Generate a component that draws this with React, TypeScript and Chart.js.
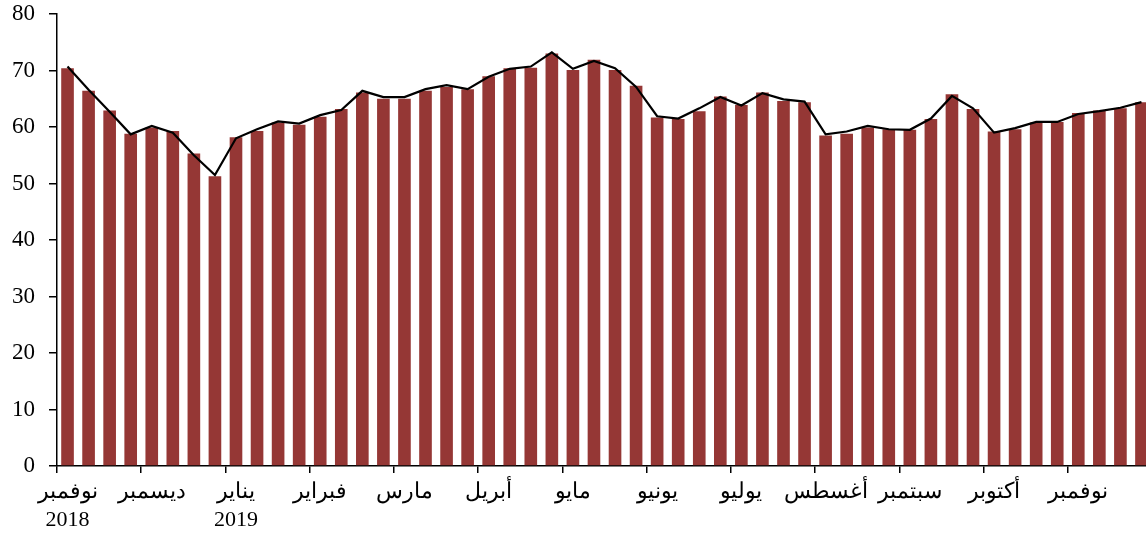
import React, { useEffect, useRef } from "react";
import { Chart, registerables } from "chart.js";

Chart.register(...registerables);

const months = ["نوفمبر", "ديسمبر", "يناير", "فبراير", "مارس", "أبريل", "مايو", "يونيو", "يوليو", "أغسطس", "سبتمبر", "أكتوبر", "نوفمبر"];
const years = ["2018", "", "2019", "", "", "", "", "", "", "", "", "", ""];
const weeksPerMonth = 4;

const barValues = [
  70.4, 66.4, 62.9, 58.8, 59.9, 59.3, 55.3, 51.3, 58.2, 59.3,
  60.8, 60.4, 61.8, 63.2, 66.1, 65.0, 65.0, 66.4, 67.1, 66.7,
  69.0, 70.4, 70.5, 73.0, 70.1, 71.9, 70.1, 67.3, 61.7, 61.4,
  62.8, 65.4, 63.9, 66.1, 64.6, 64.4, 58.5, 58.8, 59.9, 59.6,
  59.5, 61.4, 65.8, 63.2, 59.2, 59.6, 60.8, 60.9, 62.5, 62.9, 63.3, 64.4,
];

const lineValues = [
  70.7, 66.6, 62.7, 58.7, 60.2, 59.0, 55.0, 51.5, 58.0, 59.6,
  61.0, 60.6, 62.1, 63.0, 66.4, 65.3, 65.3, 66.7, 67.4, 66.7,
  68.9, 70.3, 70.7, 73.2, 70.3, 71.7, 70.4, 67.1, 61.9, 61.5,
  63.3, 65.3, 63.8, 66.0, 64.9, 64.5, 58.7, 59.2, 60.2, 59.6,
  59.5, 61.5, 65.5, 63.3, 59.0, 59.8, 60.9, 60.9, 62.3, 62.8, 63.4, 64.4,
];

const yTicks = { min: 0, max: 80, step: 10 };

const categories = barValues.map((_, i) => {
  const m = Math.floor(i / weeksPerMonth);
  return `${months[m]} ${(i % weeksPerMonth) + 1}`;
});

const FONT = '"Liberation Serif", "Times New Roman", serif';

export default function App() {
  const ref = useRef<HTMLCanvasElement | null>(null);

  useEffect(() => {
    if (!ref.current) return;
    const chart = new Chart(ref.current, {
      type: "bar",
      data: {
        labels: categories,
        datasets: [
          {
            type: "line",
            data: lineValues,
            borderColor: "#000000",
            borderWidth: 2.2,
            pointRadius: 0,
            tension: 0,
            fill: false,
            order: 0,
          } as any,
          {
            type: "bar",
            data: barValues,
            backgroundColor: "#953735",
            barPercentage: 0.6,
            categoryPercentage: 1,
            order: 1,
          },
        ],
      },
      options: {
        animation: false,
        responsive: false,
        devicePixelRatio: 1,
        layout: { padding: { top: 14, left: 0, right: 0, bottom: 0 } },
        plugins: { legend: { display: false }, tooltip: { enabled: false } },
        scales: {
          x: {
            type: "category",
            offset: true,
            grid: {
              offset: true,
              drawOnChartArea: false,
              drawTicks: true,
              tickLength: 7,
              lineWidth: 1.5,
              color: (ctx: any) => (ctx.index % weeksPerMonth === 0 ? "#000000" : "rgba(0,0,0,0)"),
            },
            border: { color: "#000000", width: 1.5 },
            ticks: {
              autoSkip: false,
              maxRotation: 0,
              minRotation: 0,
              padding: 5,
              color: "#000000",
              font: { family: FONT, size: 22, lineHeight: 1.27 },
              callback: (_v: any, i: number) => {
                if (i % weeksPerMonth !== 0) return "";
                const m = i / weeksPerMonth;
                return years[m] ? [months[m], years[m]] : months[m];
              },
            },
            afterFit: (scale: any) => {
              scale.height = 67;
            },
          },
          y: {
            min: yTicks.min,
            max: yTicks.max,
            grid: {
              drawOnChartArea: false,
              drawTicks: true,
              tickLength: 8,
              lineWidth: 1.5,
              color: "#000000",
            },
            border: { color: "#000000", width: 1.5 },
            ticks: {
              stepSize: yTicks.step,
              padding: 14,
              color: "#000000",
              font: { family: FONT, size: 23, lineHeight: 1.2 },
            },
            afterFit: (scale: any) => {
              scale.width = 57;
              scale.paddingTop = 0;
              scale.paddingBottom = 0;
            },
          },
        },
      },
    });
    return () => chart.destroy();
  }, []);

  return (
    <div style={{ position: "absolute", left: 0, top: 0, width: 1146, height: 533, overflow: "hidden", background: "#ffffff" }}>
      <canvas ref={ref} width={1152} height={533} style={{ display: "block" }} />
    </div>
  );
}
